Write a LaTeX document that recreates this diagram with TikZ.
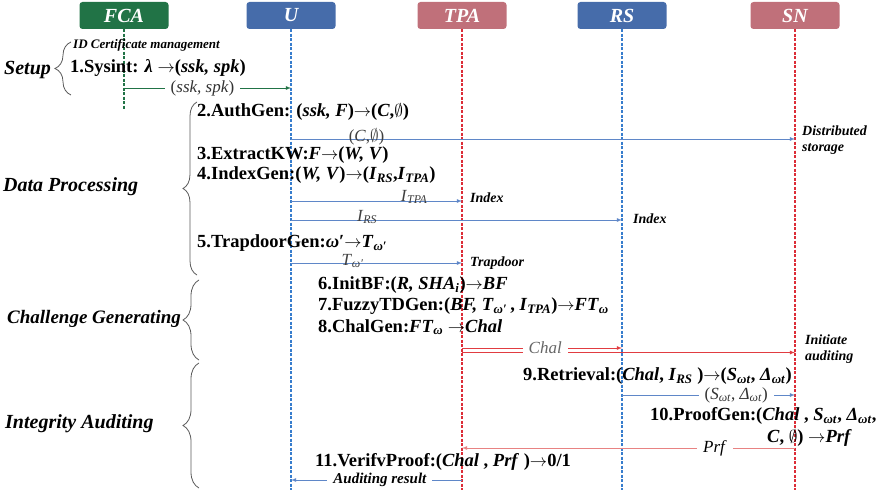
\documentclass[tikz,border=0pt]{standalone}
\usepackage{fontspec}
\setmainfont{Liberation Serif}
\usetikzlibrary{decorations.pathreplacing}

\definecolor{fcagreen}{RGB}{33,115,70}
\definecolor{boxblue}{RGB}{70,108,170}
\definecolor{boxred}{RGB}{192,112,122}
\definecolor{lineblue}{RGB}{55,125,205}
\definecolor{linered}{RGB}{220,45,55}
\definecolor{msgblue}{RGB}{95,135,200}
\definecolor{msgred}{RGB}{225,60,65}
\definecolor{msgpink}{RGB}{232,130,130}
\definecolor{bracegray}{RGB}{90,90,90}

\newcommand{\sbi}[1]{\textsubscript{\textit{#1}}}
\newcommand{\omgp}{\textit{ω}′}
\newcommand{\nullset}{$\emptyset$}
\newcommand{\rarr}{$\rightarrow$}

\tikzstyle{actor}=[rounded corners=3pt, minimum width=89pt, minimum height=27pt, text=white, font=\fontsize{20}{22}\selectfont\bfseries\itshape]
\tikzstyle{lifeline}=[line width=1.2pt, dash pattern=on 3pt off 1.5pt]
\tikzstyle{msg}=[-latex, line width=0.8pt]
\tikzstyle{stepnode}=[anchor=west, inner sep=0pt, font=\fontsize{18.5}{20}\selectfont\bfseries]
\tikzstyle{note}=[anchor=west, inner sep=0pt, align=left, font=\fontsize{14}{16}\selectfont\bfseries\itshape]
\tikzstyle{phase}=[anchor=west, inner sep=0pt, font=\fontsize{20}{22}\selectfont\bfseries\itshape]
\tikzstyle{lbl}=[font=\fontsize{17}{19}\selectfont, text=black!80, fill=white, inner xsep=6pt, inner ysep=1pt]
\tikzstyle{onlbl}=[font=\fontsize{17}{19}\selectfont, text=black!75, inner sep=0pt]
\tikzstyle{phasebrace}=[draw=bracegray, line width=0.8pt, decorate]

\begin{document}
\begin{tikzpicture}[x=1pt, y=-1pt]
  \useasboundingbox (0,0) rectangle (883,494);

  % actors and their lifelines
  \foreach \name/\lbl/\x/\fillc/\linec/\len in {fca/FCA/124/fcagreen/fcagreen/80,
      u/U/291/boxblue/lineblue/461, tpa/TPA/462/boxred/linered/461,
      rs/RS/622/boxblue/lineblue/461, sn/SN/795/boxred/linered/461} {%
    \node[actor, fill=\fillc] (\name) at (\x, 15.5) {\lbl};
    \draw[lifeline, draw=\linec] (\name.south) -- ++(0, \len);
  }

  % phases
  \node[phase] (setup) at (4, 70) {Setup};
  \node[phase] (dataproc) at (3, 187) {Data Processing};
  \node[phase, font=\fontsize{19}{21}\selectfont\bfseries\itshape] (chalphase) at (7, 319) {Challenge Generating};
  \node[phase] (auditphase) at (5, 424) {Integrity Auditing};
  \draw[phasebrace, decoration={brace, amplitude=16pt}] (71, 95) -- (71, 42);
  \draw[phasebrace, decoration={brace, amplitude=14pt}] (197, 275) -- (197, 102);
  \draw[phasebrace, decoration={brace, amplitude=16pt}] (199, 360) -- (199, 280);
  \draw[phasebrace, decoration={brace, amplitude=16pt}] (199, 488) -- (199, 363);

  % steps
  \node[note, font=\fontsize{13}{15}\selectfont\bfseries\itshape] (idnote) at (73, 45) {ID Certificate management};
  \node[stepnode] (sysint) at (70, 68) {1.Sysint: \textit{λ} \rarr(\textit{ssk, spk})};
  \node[stepnode] (authgen) at (197, 112) {2.AuthGen: (\textit{ssk, F})\rarr(\textit{C},\nullset)};
  \node[stepnode] (extractkw) at (197, 155) {3.ExtractKW:\textit{F}\rarr(\textit{W, V})};
  \node[stepnode] (indexgen) at (197, 175) {4.IndexGen:(\textit{W, V})\rarr(\textit{I}\sbi{RS},\textit{I}\sbi{TPA})};
  \node[stepnode] (trapdoorgen) at (197, 243) {5.TrapdoorGen:\omgp\rarr\textit{T}\sbi{\omgp}};
  \node[stepnode] (initbf) at (318, 285) {6.InitBF:(\textit{R, SHA}\sbi{i})\rarr\textit{BF}};
  \node[stepnode] (fuzzytd) at (318, 306) {7.FuzzyTDGen:(\textit{BF, T}\sbi{\omgp}\,, \textit{I}\sbi{TPA})\rarr\textit{FT}\sbi{ω}};
  \node[stepnode] (chalgen) at (318, 327) {8.ChalGen:\textit{FT}\sbi{ω} \rarr\textit{Chal}};
  \node[stepnode] (retrieval) at (523, 376) {9.Retrieval:(\textit{Chal}, \textit{I}\sbi{RS} )\rarr(\textit{S}\sbi{ωt}, \textit{Δ}\sbi{ωt})};
  \node[stepnode] (proofgen) at (650, 416) {10.ProofGen:(\textit{Chal} , \textit{S}\sbi{ωt}, \textit{Δ}\sbi{ωt},};
  \node[stepnode] (proofgenb) at (767, 438) {\textit{C}, \nullset) \rarr\textit{Prf}};
  \node[stepnode] (verify) at (315, 462) {11.VerifvProof:(\textit{Chal} , \textit{Prf} )\rarr0/1};

  % notes at the receivers
  \node[note] (storage) at (802, 140) {Distributed\\storage};
  \node[note] (tpaindex) at (470, 198) {Index};
  \node[note] (rsindex) at (633, 219) {Index};
  \node[note] (trapdoor) at (470, 263) {Trapdoor};
  \node[note] (initaudit) at (805, 349) {Initiate\\auditing};

  % messages
  \coordinate (m1) at (0, 88);
  \coordinate (m2) at (0, 139);
  \coordinate (m3) at (0, 201);
  \coordinate (m4) at (0, 220);
  \coordinate (m5) at (0, 263);
  \coordinate (m6) at (0, 348);
  \coordinate (m6b) at (0, 352.5);
  \coordinate (m7) at (0, 395);
  \coordinate (m8) at (0, 448);
  \coordinate (m9) at (0, 480);
  \draw[msg, fcagreen] (fca |- m1) -- node[lbl, pos=.47] {(\textit{ssk, spk})} (u |- m1);
  \draw[msg, msgblue] (u |- m2) -- node[onlbl, pos=.15, yshift=2pt] {(\textit{C},\nullset)} (sn |- m2);
  \draw[msg, msgblue] (u |- m3) -- node[onlbl, pos=.72, yshift=4pt] {\textit{I}\sbi{TPA}} (tpa |- m3);
  \draw[msg, msgblue] (u |- m4) -- node[onlbl, pos=.23, yshift=3pt] {\textit{I}\sbi{RS}} (rs |- m4);
  \draw[msg, msgblue] (u |- m5) -- node[onlbl, pos=.36, yshift=2pt] {\textit{T}\sbi{\omgp}} (tpa |- m5);
  \draw[msg, msgred] (tpa |- m6b) -- (sn |- m6b);
  \draw[msg, msgred] (tpa |- m6) -- node[lbl, text=black!60, pos=.52, inner ysep=3pt] {\textit{Chal}} (rs |- m6);
  \draw[msg, msgblue] (rs |- m7) -- node[lbl, pos=.66] {(\textit{S}\sbi{ωt}, \textit{Δ}\sbi{ωt})} (sn |- m7);
  \draw[msg, msgpink] (sn |- m8) -- node[lbl, text=black, pos=.24] {\textit{Prf}} (tpa |- m8);
  \draw[msg, msgblue] (tpa |- m9) -- node[lbl, text=black, pos=.48, font=\fontsize{15}{17}\selectfont\bfseries\itshape] {Auditing result} (u |- m9);
\end{tikzpicture}
\end{document}
